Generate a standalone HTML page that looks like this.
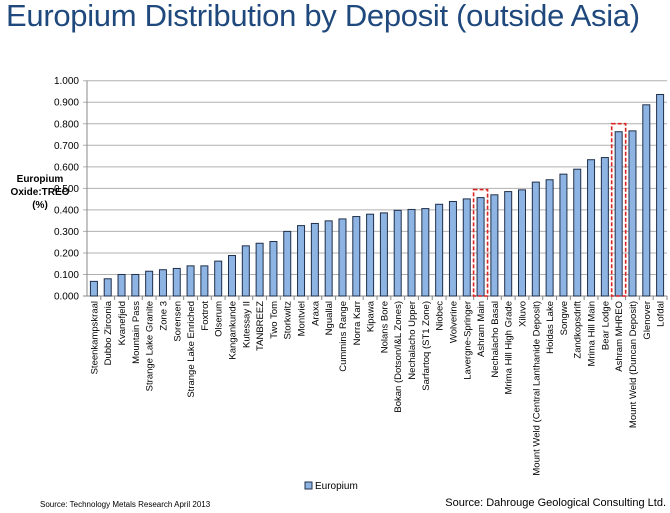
<!DOCTYPE html>
<html><head><meta charset="utf-8"><style>
body{margin:0;width:670px;height:513px;background:#fff;font-family:"Liberation Sans",sans-serif;overflow:hidden;position:relative}
#title{position:absolute;left:6px;top:-2px;font-size:31px;color:#1f497d;white-space:nowrap;letter-spacing:-0.3px}
</style></head><body>
<div id="title">Europium Distribution by Deposit (outside Asia)</div>
<svg id="chart" width="670" height="513" style="position:absolute;left:0;top:0"></svg>
<script>
const categories=["Steenkampskraal","Dubbo Zirconia","Kvanefjeld","Mountain Pass","Strange Lake Granite","Zone 3","Sorensen","Strange Lake Enriched","Foxtrot","Olserum","Kangankunde","Kutessay II","TANBREEZ","Two Tom","Storkwitz","Montviel","Araxa","Nguallal","Cummins Range","Norra Karr","Kipawa","Nolans Bore","Bokan (Dotson/I&L Zones)","Nechalacho Upper","Sarfartoq (ST1 Zone)","Niobec","Wolverine","Lavergne-Springer","Ashram Main","Nechalacho Basal","Mrima Hill High Grade","Xiluvo","Mount Weld (Central Lanthanide Deposit)","Hoidas Lake","Songwe","Zandkopsdrift","Mrima Hill Main","Bear Lodge","Ashram MHREO","Mount Weld (Duncan Deposit)","Glenover","Lofdal"];
const europium=[0.068,0.080,0.100,0.100,0.115,0.122,0.128,0.140,0.140,0.162,0.188,0.233,0.245,0.253,0.300,0.327,0.337,0.349,0.358,0.369,0.380,0.386,0.398,0.402,0.406,0.426,0.439,0.451,0.457,0.470,0.485,0.493,0.529,0.540,0.566,0.589,0.633,0.643,0.763,0.767,0.888,0.936];
const yTicks=[0,0.1,0.2,0.3,0.4,0.5,0.6,0.7,0.8,0.9,1.0];
const highlighted=["Ashram Main","Ashram MHREO"];
const NS="http://www.w3.org/2000/svg",svg=document.getElementById('chart');
const X0=87,X1=667,Y0=296,Y1=80.7;
const step=(X1-X0)/categories.length;
const y=v=>Y0-(v/1.0)*(Y0-Y1);
const xc=i=>X0+step*(i+0.5);
function mk(t,a,p){const e=document.createElementNS(NS,t);for(const k in a)e.setAttribute(k,a[k]);(p||svg).appendChild(e);return e;}
yTicks.forEach(t=>{
 const g=mk('line',{x1:X0-4,x2:X1,y1:y(t),y2:y(t),stroke:t===0?'#888':'#b0b0b0','stroke-width':1});
 
 
 const l=mk('text',{x:X0-8,y:y(t)+3.5,'text-anchor':'end','font-size':10,fill:'#000'});
 l.textContent=t.toFixed(3);
 
 
});
mk('line',{x1:X0,x2:X0,y1:Y1,y2:Y0,stroke:'#888'});
categories.forEach((c,i)=>{
 const v=europium[i];
 const r=mk('rect',{x:xc(i)-3.5,y:y(v),width:7,height:Y0-y(v),fill:'#8eb4e3',stroke:'#1f2f4a','stroke-width':1});
 
 
 mk('line',{x1:X0+step*(i+1),x2:X0+step*(i+1),y1:Y0,y2:Y0+4,stroke:'#888'});
 const t=mk('text',{transform:`translate(${xc(i)+3.5},${Y0+5}) rotate(-90)`,'text-anchor':'end','font-size':9.5,fill:'#000'});
 t.textContent=c;
 
 
 if(highlighted.includes(c)){
  const b=mk('rect',{x:xc(i)-7,y:y(v)-8,width:14,height:Y0-y(v)+8,fill:'none',stroke:'#d22','stroke-width':1.6,'stroke-dasharray':'4,2'});
  
  
 }
});
const ya=mk('text',{x:40,y:182,'text-anchor':'middle','font-size':10,'font-weight':'bold'});


[['Europium',0],['Oxide:TREO',13],['(%)',26]].forEach(([s,d])=>{const ts=mk('tspan',{x:40,dy:d?13:0},ya);ts.textContent=s;});
const lg=mk('g',{});


mk('rect',{x:305,y:482,width:7,height:7,fill:'#8eb4e3',stroke:'#1f2f4a'},lg);
const lt=mk('text',{x:315,y:489,'font-size':10},lg);lt.textContent='Europium';
const s1=mk('text',{x:40,y:507,'font-size':8});s1.textContent='Source: Technology Metals Research April 2013';


const s2=mk('text',{x:666,y:506,'font-size':11,'text-anchor':'end'});s2.textContent='Source: Dahrouge Geological Consulting Ltd.';


</script>
</body></html>
